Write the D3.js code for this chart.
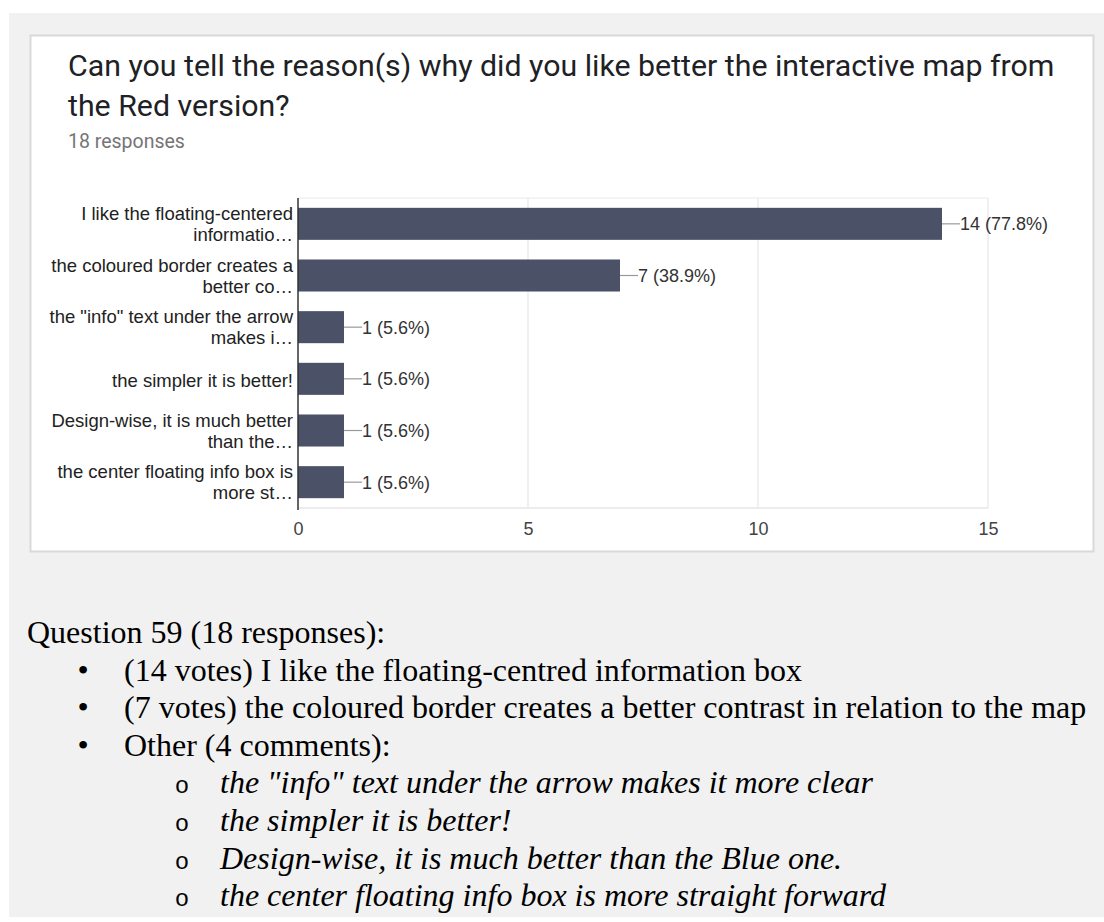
<!DOCTYPE html>
<html>
<head>
<meta charset="utf-8">
<script src="https://cdn.jsdelivr.net/npm/d3@7/dist/d3.min.js"></script>
<style>
  html, body { margin: 0; padding: 0; background: #ffffff; }
  svg { display: block; }
</style>
</head>
<body>
<svg id="page" width="1104" height="922"></svg>
<script>
// ---- data ----
const titleLines = [
  "Can you tell the reason(s) why did you like better the interactive map from",
  "the Red version?"
];
const responseCount = 18;
const categories = [
  ["I like the floating-centered", "informatio…"],
  ["the coloured border creates a", "better co…"],
  ["the \"info\" text under the arrow", "makes i…"],
  ["the simpler it is better!"],
  ["Design-wise, it is much better", "than the…"],
  ["the center floating info box is", "more st…"]
];
const votes = [14, 7, 1, 1, 1, 1];
const xTicks = [0, 5, 10, 15];

const summaryHeading = "Question 59 (18 responses):";
const summaryItems = [
  "(14 votes) I like the floating-centred information box",
  "(7 votes) the coloured border creates a better contrast in relation to the map",
  "Other (4 comments):"
];
const comments = [
  "the \"info\" text under the arrow makes it more clear",
  "the simpler it is better!",
  "Design-wise, it is much better than the Blue one.",
  "the center floating info box is more straight forward"
];

// ---- page ----
const svg = d3.select("#page");
svg.append("rect").attr("x", 9).attr("y", 13).attr("width", 1095).attr("height", 904)
  .attr("fill", "#f1f1f1");

// card
svg.append("rect").attr("x", 30.5).attr("y", 35.5).attr("width", 1063).attr("height", 516)
  .attr("fill", "#ffffff").attr("stroke", "#d9d9d9").attr("stroke-width", 2);

const title = svg.append("text")
  .attr("font-family", "Roboto, 'Noto Sans', sans-serif")
  .attr("font-size", 30.3).attr("fill", "#202124");
titleLines.forEach((t, i) => {
  title.append("tspan").attr("x", 68).attr("y", 76 + i * 40).text(t);
});
svg.append("text").attr("x", 68).attr("y", 148)
  .attr("font-family", "Roboto, 'Noto Sans', sans-serif")
  .attr("font-size", 19.5).attr("fill", "#757575")
  .text(responseCount + " responses");

// ---- bar chart ----
const plot = { left: 298, right: 988, top: 198, bottom: 508 };
const x = d3.scaleLinear().domain([0, 15]).range([plot.left, plot.right]);
const y = d3.scaleBand().domain(d3.range(categories.length))
  .range([plot.top, plot.bottom]).paddingInner(0.38).paddingOuter(0.19);

const chart = svg.append("g");

// frame + gridlines
chart.append("line").attr("x1", plot.left).attr("x2", plot.right)
  .attr("y1", plot.top).attr("y2", plot.top).attr("stroke", "#f0f0f0").attr("stroke-width", 1.5);
chart.append("line").attr("x1", plot.left).attr("x2", plot.right)
  .attr("y1", plot.bottom).attr("y2", plot.bottom).attr("stroke", "#ececec").attr("stroke-width", 2);
chart.selectAll(".grid").data(xTicks.slice(1)).join("line")
  .attr("class", "grid")
  .attr("x1", d => x(d)).attr("x2", d => x(d))
  .attr("y1", plot.top).attr("y2", plot.bottom)
  .attr("stroke", "#ebebeb").attr("stroke-width", 1.5);

// x axis tick labels
const xAxis = d3.axisBottom(x).tickValues(xTicks).tickSize(0).tickPadding(0);
const gx = chart.append("g").attr("transform", `translate(0,${plot.bottom})`).call(xAxis);
gx.select(".domain").remove();
gx.selectAll("text")
  .attr("font-family", "Arial, 'Liberation Sans', sans-serif")
  .attr("font-size", 18).attr("fill", "#444")
  .attr("dy", null).attr("y", 27);

// bars
chart.selectAll(".bar").data(votes).join("rect")
  .attr("class", "bar")
  .attr("x", x(0)).attr("y", (d, i) => y(i))
  .attr("width", d => x(d) - x(0)).attr("height", y.bandwidth())
  .attr("fill", "#4b5166");

// value labels with leader line
const pct = d3.format(".1f");
const vals = chart.selectAll(".val").data(votes).join("g").attr("class", "val")
  .attr("transform", (d, i) => `translate(${x(d)},${y(i) + y.bandwidth() / 2})`);
vals.append("line").attr("x1", 0).attr("x2", 18).attr("y1", 0).attr("y2", 0)
  .attr("stroke", "#999").attr("stroke-width", 1.2);
vals.append("text").attr("x", 18).attr("dy", "0.36em")
  .attr("font-family", "Arial, 'Liberation Sans', sans-serif")
  .attr("font-size", 18).attr("fill", "#333")
  .text(d => `${d} (${pct(d / responseCount * 100)}%)`);

// category labels
const cats = chart.selectAll(".cat").data(categories).join("text").attr("class", "cat")
  .attr("font-family", "Arial, 'Liberation Sans', sans-serif")
  .attr("font-size", 18.5).attr("fill", "#222").attr("text-anchor", "end");
cats.each(function (lines, i) {
  const cy = y(i) + y.bandwidth() / 2;
  const t = d3.select(this);
  if (lines.length === 1) {
    t.append("tspan").attr("x", plot.left - 5).attr("y", cy + 8).text(lines[0]);
  } else {
    lines.forEach((ln, k) => {
      t.append("tspan").attr("x", plot.left - 5).attr("y", cy - 4 + k * 21).text(ln);
    });
  }
});

// zero axis line
chart.append("line").attr("x1", plot.left).attr("x2", plot.left)
  .attr("y1", plot.top).attr("y2", plot.bottom + 2)
  .attr("stroke", "#333").attr("stroke-width", 1.5);

// ---- summary list ----
const serif = "'Times New Roman', 'Liberation Serif', serif";
const rowY = i => 643 + i * 37.6;
svg.append("text").attr("x", 27).attr("y", rowY(0))
  .attr("font-family", serif).attr("font-size", 32).attr("fill", "#000")
  .text(summaryHeading);
summaryItems.forEach((s, i) => {
  svg.append("text").attr("x", 83).attr("y", rowY(i + 1))
    .attr("text-anchor", "middle")
    .attr("font-family", serif).attr("font-size", 32).attr("fill", "#000").text("•");
  svg.append("text").attr("x", 124).attr("y", rowY(i + 1))
    .attr("font-family", serif).attr("font-size", 32).attr("fill", "#000").text(s);
});
comments.forEach((s, i) => {
  const yy = rowY(i + 4);
  svg.append("text").attr("x", 182).attr("y", yy)
    .attr("text-anchor", "middle")
    .attr("font-family", "'Courier New', 'Liberation Mono', monospace")
    .attr("font-size", 24).attr("fill", "#000").text("o");
  svg.append("text").attr("x", 220).attr("y", yy)
    .attr("font-family", serif).attr("font-style", "italic")
    .attr("font-size", 32).attr("fill", "#000").text(s);
});
</script>
</body>
</html>
